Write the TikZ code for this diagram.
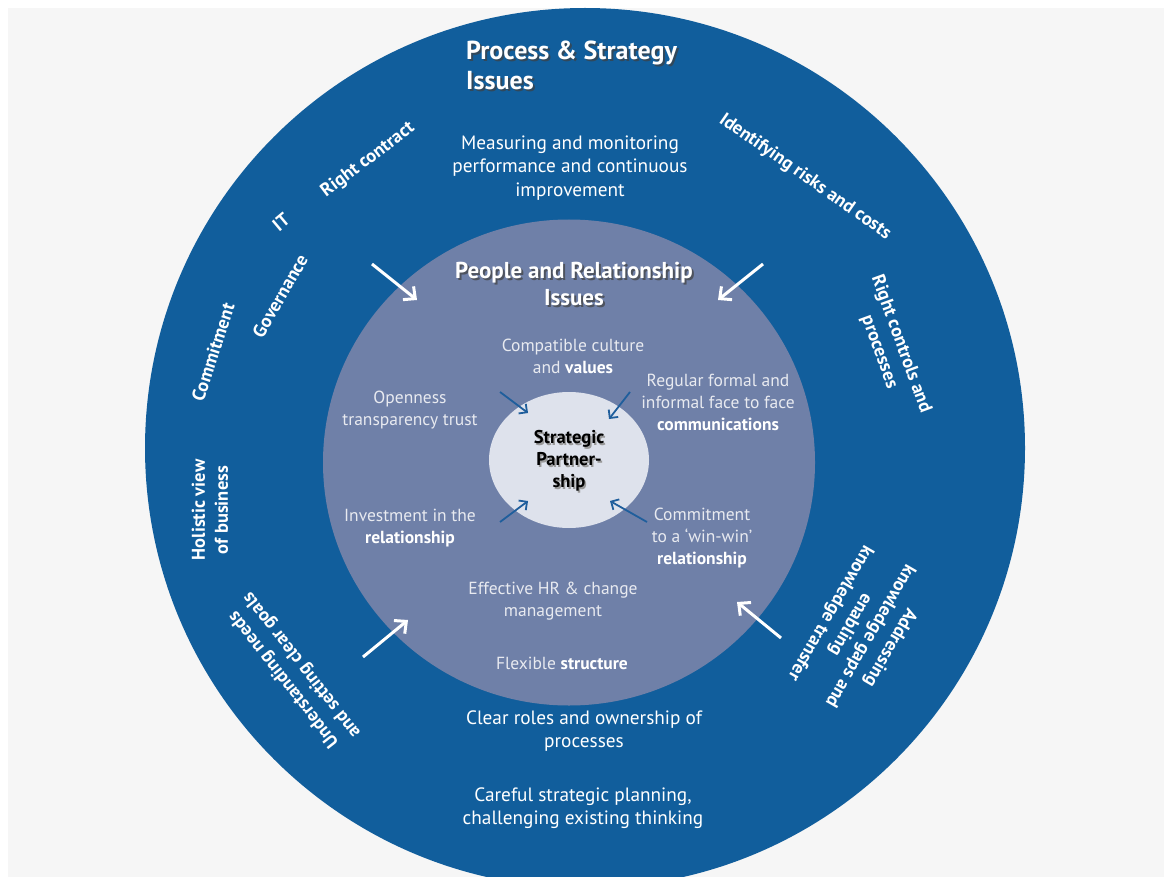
\documentclass[tikz,border=0pt]{standalone}
\usepackage{fontspec}
\setmainfont{PT Sans}
\usetikzlibrary{arrows.meta}
\definecolor{bgray}{HTML}{F6F6F6}
\definecolor{outerblue}{HTML}{115E9C}
\definecolor{midblue}{HTML}{6F80A8}
\definecolor{innerc}{HTML}{DEE2EC}
\definecolor{midtext}{HTML}{E8EAF0}
\definecolor{arrblue}{HTML}{1F5E9C}
\begin{document}
\begin{tikzpicture}[x=1pt,y=-1pt,
  outertxt/.style={text=white,align=center,font=\fontsize{19.3}{23.5}\selectfont,inner sep=0pt},
  rottxt/.style={text=white,align=center,font=\bfseries\fontsize{18.5}{23}\selectfont,inner sep=0pt},
  midtxt/.style={text=midtext,align=center,font=\fontsize{17.5}{22}\selectfont,inner sep=0pt},
  titletxt/.style={align=left,font=\bfseries\fontsize{26}{30}\selectfont,inner sep=0pt},
  peopletxt/.style={align=center,font=\bfseries\fontsize{23}{26.5}\selectfont,inner sep=0pt},
  stratxt/.style={align=center,font=\bfseries\fontsize{18.5}{22}\selectfont,inner sep=0pt},
  wharrow/.style={draw=white,line width=3pt,-{Straight Barb[length=9pt,width=17pt,line width=3pt]}},
  blarrow/.style={draw=arrblue,line width=1.8pt,-{Straight Barb[length=6pt,width=12pt,line width=1.8pt]}}
]
\useasboundingbox (0,0) rectangle (1164,877);
\fill[white] (0,0) rectangle (1164,877);
\fill[bgray] (8,8) rectangle (1164,877);
\begin{scope}
  \clip (8,8) rectangle (1164,877);
  \fill[outerblue] (585,448) circle[radius=440pt];
\end{scope}
\fill[midblue] (569,462.5) ellipse[x radius=246pt,y radius=243pt];
\fill[innerc] (569,460) ellipse[x radius=80pt,y radius=68pt];

% outer title
\node[titletxt,text=black!75,anchor=west,opacity=0.7] (titleS) at (468,67) {Process \& Strategy\\Issues};
\node[titletxt,text=white,anchor=west] (title) at (466,65) {Process \& Strategy\\Issues};

% outer ring texts
\node[outertxt] (measure) at (570,168) {Measuring and monitoring\\performance and continuous\\improvement};
\node[outertxt] (roles) at (584,731) {Clear roles and ownership of\\processes};
\node[outertxt] (careful) at (583,808) {Careful strategic planning,\\challenging existing thinking};

\node[rottxt,rotate=37] (contract) at (368,160) {Right contract};
\node[rottxt,rotate=40] (it) at (281,222) {IT};
\node[rottxt,rotate=60] (gov) at (280,296) {Governance};
\node[rottxt,rotate=72] (commit) at (213,352) {Commitment};
\node[rottxt,rotate=90] (holistic) at (210,510) {Holistic view\\of business};
\node[rottxt,rotate=128] (underst) at (293,672) {Understanding needs\\and setting clear goals};
\node[rottxt,rotate=-35] (risks) at (805,177) {Identifying risks and costs};
\node[rottxt,rotate=-70] (controls) at (890,348) {Right controls and\\processes};
\node[rottxt,rotate=-120] (address) at (860,630) {Addressing\\knowledge gaps and\\enabling\\knowledge transfer};

% middle circle title
\node[peopletxt,text=black!75,opacity=0.7] (peopleS) at (576,286) {People and Relationship\\Issues};
\node[peopletxt,text=white] (people) at (574,284) {People and Relationship\\Issues};

% middle circle texts
\node[midtxt] (compat) at (573,356) {Compatible culture\\and \textbf{\color{white}values}};
\node[midtxt] (open) at (410,410) {Openness\\transparency trust};
\node[midtxt] (regular) at (718,402) {Regular formal and\\informal face to face\\\textbf{\color{white}communications}};
\node[midtxt] (invest) at (410,528) {Investment in the\\\textbf{\color{white}relationship}};
\node[midtxt] (winwin) at (702,538) {Commitment\\to a ‘win-win’\\\textbf{\color{white}relationship}};
\node[midtxt] (hr) at (553,601) {Effective HR \& change\\management};
\node[midtxt] (flex) at (562,663) {Flexible \textbf{\color{white}structure}};

% core text
\node[stratxt,text=black!40] (stratS) at (570.5,462.5) {Strategic\\Partner-\\ship};
\node[stratxt,text=black] (strat) at (569,461) {Strategic\\Partner-\\ship};

% white arrows
\coordinate (w1s) at (372,264); \coordinate (w1e) at (417,300);
\coordinate (w2s) at (763,264); \coordinate (w2e) at (718,300);
\coordinate (w3s) at (363,657); \coordinate (w3e) at (408,620);
\coordinate (w4s) at (781,638); \coordinate (w4e) at (737,602);
\draw[wharrow] (w1s) -- (w1e);
\draw[wharrow] (w2s) -- (w2e);
\draw[wharrow] (w3s) -- (w3e);
\draw[wharrow] (w4s) -- (w4e);

% blue arrows
\coordinate (b1s) at (500,392); \coordinate (b1e) at (528,413);
\coordinate (b2s) at (630,392); \coordinate (b2e) at (609,419);
\coordinate (b3s) at (500,522); \coordinate (b3e) at (528,501);
\coordinate (b4s) at (647,522); \coordinate (b4e) at (610,501);
\draw[blarrow] (b1s) -- (b1e);
\draw[blarrow] (b2s) -- (b2e);
\draw[blarrow] (b3s) -- (b3e);
\draw[blarrow] (b4s) -- (b4e);
\end{tikzpicture}
\end{document}
